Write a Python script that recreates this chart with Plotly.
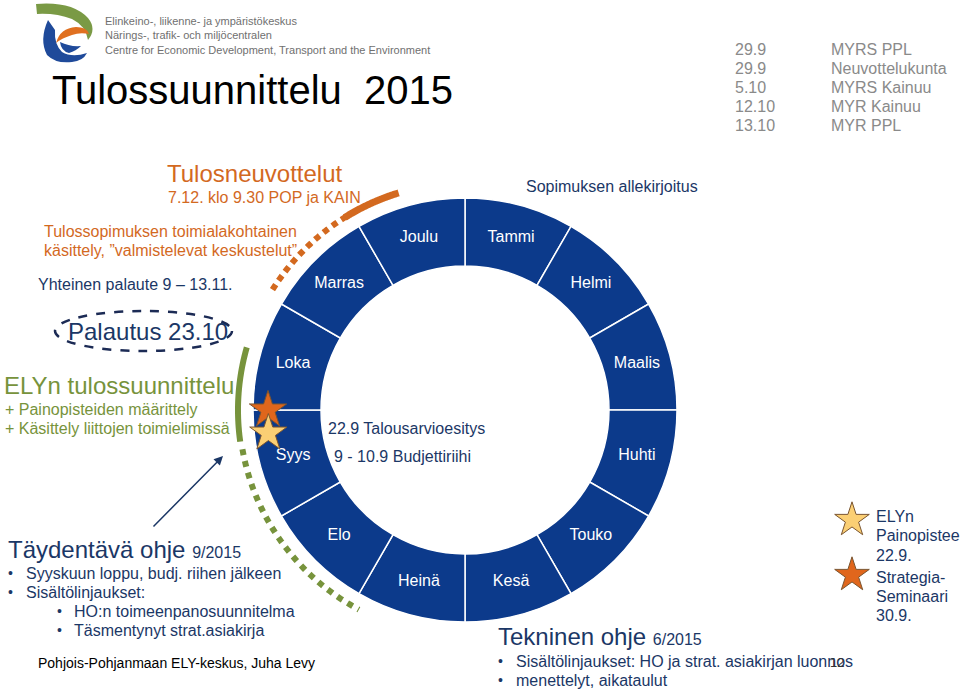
import numpy as np
import plotly.graph_objects as go

# ---------------- data ----------------
months = ["Tammi", "Helmi", "Maalis", "Huhti", "Touko", "Kesä",
          "Heinä", "Elo", "Syys", "Loka", "Marras", "Joulu"]
month_span = [30] * 12                       # degrees per month
ring_inner, ring_outer = 144, 212            # radial extent of the ring
label_r = 178

right_dates = ["29.9", "29.9", "5.10", "12.10", "13.10"]
right_events = ["MYRS PPL", "Neuvottelukunta", "MYRS Kainuu", "MYR Kainuu", "MYR PPL"]

# arcs (clockwise degrees from 12 o'clock) : [start, end]
orange_dotted = [302, 329]
orange_solid = [328, 343]
green_solid = [286, 262]
green_dotted = [260, 208]

star_orange = dict(r=197, theta=270)   # Strategia-seminaari 30.9.
star_yellow = dict(r=198, theta=263.3)  # ELYn painopisteet 22.9.

FONT = "Liberation Sans, Arial, sans-serif"
BLUE_RING = "#0c3a8b"
NAVY = "#1b3766"
ORANGE = "#d3691f"
GREEN = "#77933c"
GREY = "#8a8a8a"

theta_c = np.cumsum(month_span) - np.array(month_span) / 2

fig = go.Figure()

# ring
fig.add_trace(go.Barpolar(
    r=[ring_outer - ring_inner] * len(months), base=ring_inner,
    theta=theta_c, width=month_span,
    marker=dict(color=BLUE_RING, line=dict(color="white", width=1.5)),
    hoverinfo="skip", showlegend=False))

fig.add_trace(go.Scatterpolar(
    r=[label_r] * len(months), theta=theta_c, mode="text", text=months,
    textfont=dict(color="white", size=16, family=FONT),
    hoverinfo="skip", showlegend=False))

def arc(span, r, color, width, dash):
    th = np.linspace(span[0], span[1], 60)
    fig.add_trace(go.Scatterpolar(
        r=[r] * len(th), theta=th, mode="lines",
        line=dict(color=color, width=width, dash=dash),
        hoverinfo="skip", showlegend=False))

arc(orange_dotted, 227, ORANGE, 6, "6px,5px")
arc(orange_solid, 227, ORANGE, 7, "solid")
arc(green_solid, 227, GREEN, 6, "solid")
arc(green_dotted, 226, GREEN, 6, "6px,6px")

fig.add_trace(go.Scatterpolar(
    r=[star_orange["r"], star_yellow["r"]],
    theta=[star_orange["theta"], star_yellow["theta"]],
    mode="markers",
    marker=dict(symbol="star", size=28, color=["#e0661c", "#fbcf74"],
                line=dict(color="#7a5530", width=1)),
    hoverinfo="skip", showlegend=False))

# legend stars (cartesian pixel space)
fig.add_trace(go.Scatter(
    x=[852, 852], y=[520, 575], mode="markers",
    marker=dict(symbol="star", size=26, color=["#fbcf74", "#e0661c"],
                line=dict(color="#7a5530", width=1)),
    hoverinfo="skip", showlegend=False))

W, H = 960, 692
cx, cy, R = 465, 410, 235
fig.update_layout(
    width=W, height=H, autosize=False,
    margin=dict(l=0, r=0, t=0, b=0),
    paper_bgcolor="white", plot_bgcolor="rgba(0,0,0,0)",
    xaxis=dict(range=[0, W], visible=False, domain=[0, 1], fixedrange=True),
    yaxis=dict(range=[H, 0], visible=False, domain=[0, 1], fixedrange=True),
    polar=dict(
        domain=dict(x=[(cx - R) / W, (cx + R) / W],
                    y=[(H - cy - R) / H, (H - cy + R) / H]),
        bgcolor="rgba(0,0,0,0)",
        radialaxis=dict(range=[0, R], visible=False, showgrid=False),
        angularaxis=dict(rotation=90, direction="clockwise", visible=False,
                         showgrid=False, showline=False, showticklabels=False),
    ),
    showlegend=False,
    font=dict(family=FONT),
)

ann = []
def txt(x, y, s, size, color, anchor="left", **kw):
    ann.append(dict(x=x, y=y, xref="x", yref="y", text=s, showarrow=False,
                    xanchor=anchor, yanchor="middle",
                    font=dict(size=size, color=color, family=FONT), **kw))

# logo text
txt(103, 21, "Elinkeino-, liikenne- ja ympäristökeskus", 11, "#707070")
txt(103, 35, "Närings-, trafik- och miljöcentralen", 11, "#707070")
txt(103, 50, "Centre for Economic Development, Transport and the Environment", 11, "#707070")
# title
txt(50, 90, "Tulossuunnittelu  2015", 40, "black")
# right list
for i, (d, e) in enumerate(zip(right_dates, right_events)):
    y = 49 + i * 19.2
    txt(733, y, d, 16, GREY)
    txt(829, y, e, 16, GREY)

txt(165, 173, "Tulosneuvottelut", 24, ORANGE)
txt(166, 197, "7.12. klo 9.30 POP ja KAIN", 16, ORANGE)
txt(42, 231, "Tulossopimuksen toimialakohtainen", 16, ORANGE)
txt(42, 250, "käsittely, ”valmistelevat keskustelut”", 16, ORANGE)
txt(36, 284, "Yhteinen palaute 9 – 13.11.", 16, NAVY)
txt(66, 331, "Palautus 23.10", 24, NAVY)
txt(524, 186, "Sopimuksen allekirjoitus", 16, NAVY)

txt(2, 385, "ELYn tulossuunnittelu", 24, GREEN)
txt(3, 409, "+ Painopisteiden määrittely", 16, GREEN)
txt(3, 428, "+ Käsittely liittojen toimielimissä", 16, GREEN)

txt(326, 428, "22.9 Talousarvioesitys", 16, NAVY)
txt(332, 456, "9 - 10.9 Budjettiriihi", 16, NAVY)

txt(6, 549, "Täydentävä ohje <span style='font-size:16px'>9/2015</span>", 24, NAVY)
txt(6, 573, "•", 14, NAVY)
txt(24, 573, "Syyskuun loppu, budj. riihen jälkeen", 16, NAVY)
txt(6, 592, "•", 14, NAVY)
txt(24, 592, "Sisältölinjaukset:", 16, NAVY)
txt(55, 611, "•", 14, NAVY)
txt(72, 611, "HO:n toimeenpanosuunnitelma", 16, NAVY)
txt(55, 630, "•", 14, NAVY)
txt(72, 630, "Täsmentynyt strat.asiakirja", 16, NAVY)

txt(36, 663, "Pohjois-Pohjanmaan ELY-keskus, Juha Levy", 14, "black")

txt(496, 636, "Tekninen ohje <span style='font-size:16px'>6/2015</span>", 24, NAVY)
txt(496, 661, "•", 14, NAVY)
txt(514, 661, "Sisältölinjaukset: HO ja strat. asiakirjan luonnos", 16, NAVY)
txt(496, 680, "•", 14, NAVY)
txt(514, 680, "menettelyt, aikataulut", 16, NAVY)
txt(828, 662, "12", 13, "#333333")

legend_lines = ["ELYn", "Painopistee", "22.9.", "Strategia-", "Seminaari", "30.9."]
for i, s in enumerate(legend_lines):
    txt(874, [516, 535, 555, 577, 596, 615][i], s, 16, NAVY)

# arrow
ann.append(dict(x=223, y=456, ax=152, ay=528, xref="x", yref="y", axref="x", ayref="y",
                showarrow=True, arrowhead=2, arrowsize=1.2, arrowwidth=1.5,
                arrowcolor=NAVY, text=""))
fig.update_layout(annotations=ann)

shapes = []
# dashed ellipse around "Palautus"
shapes.append(dict(type="circle", xref="x", yref="y", x0=55, x1=232, y0=311, y1=351,
                   line=dict(color="#1c2b55", width=2.5, dash="dash"), layer="above"))
# logo
shapes.append(dict(type="path", xref="x", yref="y", layer="above",
                   path="M 36,4 Q 72,1 88,18 Q 97,29 88,40 Q 86,26 72,19 Q 56,13 37,14 Z",
                   fillcolor="#7a9a45", line=dict(width=0)))
shapes.append(dict(type="path", xref="x", yref="y", layer="above",
                   path="M 56,43 Q 60,28 76,27 Q 87,27 89,34 Q 80,32 72,35 Q 62,38 56,43 Z",
                   fillcolor="#e07020", line=dict(width=0)))
shapes.append(dict(type="path", xref="x", yref="y", layer="above",
                   path="M 48,20 Q 39,40 47,55 Q 56,64 72,62 Q 83,61 87,53 Q 72,58 62,52 Q 54,44 55,30 Z",
                   fillcolor="#1f4a9a", line=dict(width=0)))
shapes.append(dict(type="path", xref="x", yref="y", layer="above",
                   path="M 60,42 Q 61,51 69,53 Q 76,51 81,46 Q 70,47 60,42 Z",
                   fillcolor="#1f4a9a", line=dict(width=0)))
fig.update_layout(shapes=shapes)

fig.write_html("out.html", config={"displayModeBar": False},
               post_script="document.body.style.margin='0';")
